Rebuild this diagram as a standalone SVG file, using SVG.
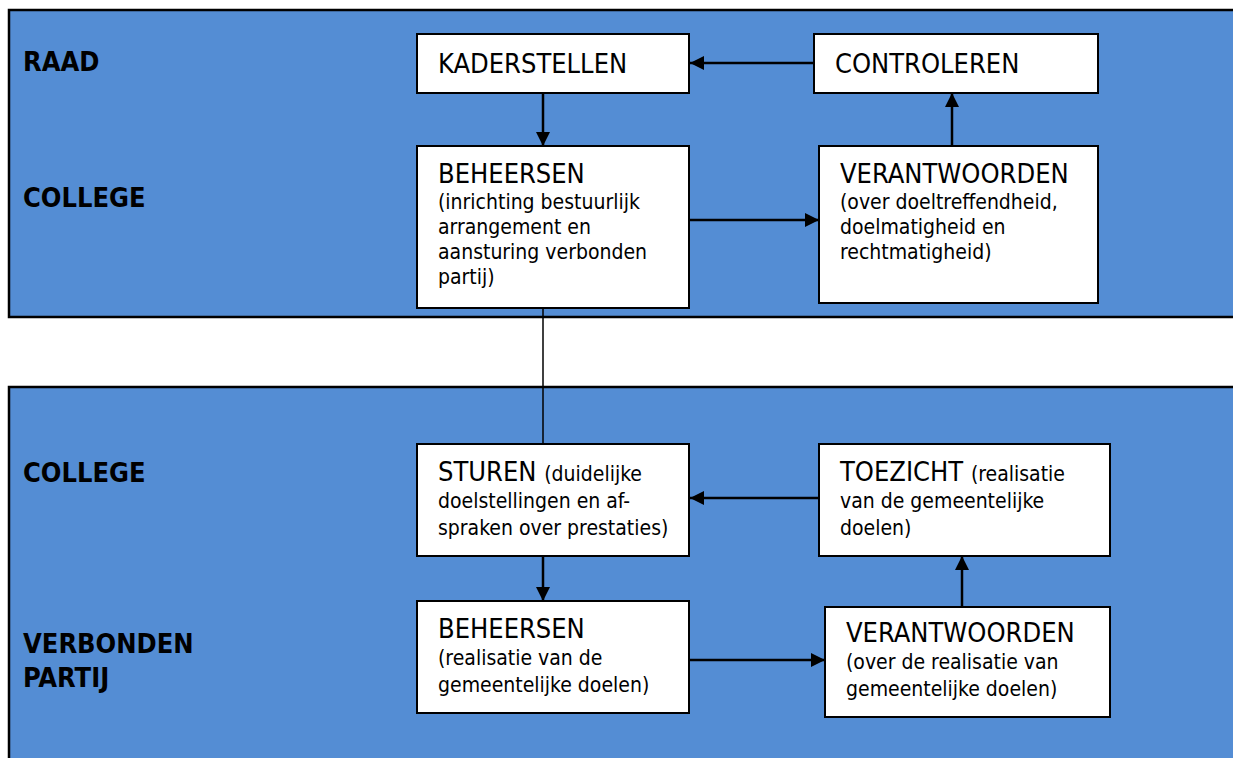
<svg xmlns="http://www.w3.org/2000/svg" width="1233" height="758" viewBox="0 0 1233 758">
<style>
.panel{fill:#548DD4;stroke:#000;stroke-width:2.5}
.box{fill:#fff;stroke:#000;stroke-width:2}
.lbl{font-family:"DejaVu Sans Condensed","DejaVu Sans",sans-serif;font-weight:bold;font-size:27px;fill:#000}
.t{font-family:"DejaVu Sans Condensed","DejaVu Sans",sans-serif;font-size:27px;fill:#000}
.s{font-family:"DejaVu Sans Condensed","DejaVu Sans",sans-serif;font-size:21px;fill:#000}
.c{stroke:#000;stroke-width:2.5;fill:none}
</style>
<defs>
<marker id="ah" markerWidth="14" markerHeight="14" refX="14" refY="7" orient="auto" markerUnits="userSpaceOnUse">
<path d="M0,0 L14,7 L0,14 Z" fill="#000"/>
</marker>
</defs>
<rect width="1233" height="758" fill="#fff"/>
<g id="panel-top">
<rect class="panel" x="9" y="10" width="1230" height="307"/>
<text class="lbl" x="23" y="71">RAAD</text>
<text class="lbl" x="23" y="207">COLLEGE</text>
</g>
<g id="panel-bottom">
<rect class="panel" x="9" y="387" width="1230" height="380"/>
<text class="lbl" x="23" y="482">COLLEGE</text>
<text class="lbl" x="23" y="653">VERBONDEN</text>
<text class="lbl" x="23" y="687">PARTIJ</text>
</g>
<g id="connectors">
<line class="c" x1="814" y1="63" x2="690" y2="63" marker-end="url(#ah)"/>
<line class="c" x1="543" y1="93" x2="543" y2="146" marker-end="url(#ah)"/>
<line class="c" x1="689" y1="220" x2="819" y2="220" marker-end="url(#ah)"/>
<line class="c" x1="952" y1="146" x2="952" y2="93" marker-end="url(#ah)"/>
<line class="c" x1="543" y1="308" x2="543" y2="444" style="stroke-width:1.5"/>
<line class="c" x1="819" y1="498" x2="690" y2="498" marker-end="url(#ah)"/>
<line class="c" x1="543" y1="556" x2="543" y2="601" marker-end="url(#ah)"/>
<line class="c" x1="689" y1="660" x2="825" y2="660" marker-end="url(#ah)"/>
<line class="c" x1="962" y1="607" x2="962" y2="556" marker-end="url(#ah)"/>
</g>
<g id="kaderstellen">
<rect class="box" x="417" y="34" width="272" height="59"/>
<text class="t" x="438" y="73">KADERSTELLEN</text>
</g>
<g id="controleren">
<rect class="box" x="814" y="34" width="284" height="59"/>
<text class="t" x="835" y="73">CONTROLEREN</text>
</g>
<g id="beheersen-top">
<rect class="box" x="417" y="146" width="272" height="162"/>
<text class="t" x="438" y="183">BEHEERSEN</text>
<text class="s" x="438" y="209">(inrichting bestuurlijk</text>
<text class="s" x="438" y="234">arrangement en</text>
<text class="s" x="438" y="259">aansturing verbonden</text>
<text class="s" x="438" y="284">partij)</text>
</g>
<g id="verantwoorden-top">
<rect class="box" x="819" y="146" width="279" height="157"/>
<text class="t" x="840" y="183">VERANTWOORDEN</text>
<text class="s" x="840" y="209">(over doeltreffendheid,</text>
<text class="s" x="840" y="234">doelmatigheid en</text>
<text class="s" x="840" y="259">rechtmatigheid)</text>
</g>
<g id="sturen">
<rect class="box" x="417" y="444" width="272" height="112"/>
<text class="t" x="438" y="481">STUREN <tspan class="s">(duidelijke</tspan></text>
<text class="s" x="438" y="508">doelstellingen en af-</text>
<text class="s" x="438" y="535">spraken over prestaties)</text>
</g>
<g id="toezicht">
<rect class="box" x="819" y="444" width="291" height="112"/>
<text class="t" x="840" y="481">TOEZICHT <tspan class="s">(realisatie</tspan></text>
<text class="s" x="840" y="508">van de gemeentelijke</text>
<text class="s" x="840" y="535">doelen)</text>
</g>
<g id="beheersen-bottom">
<rect class="box" x="417" y="601" width="272" height="112"/>
<text class="t" x="438" y="638">BEHEERSEN</text>
<text class="s" x="438" y="665">(realisatie van de</text>
<text class="s" x="438" y="692">gemeentelijke doelen)</text>
</g>
<g id="verantwoorden-bottom">
<rect class="box" x="825" y="607" width="285" height="110"/>
<text class="t" x="846" y="642">VERANTWOORDEN</text>
<text class="s" x="846" y="669">(over de realisatie van</text>
<text class="s" x="846" y="696">gemeentelijke doelen)</text>
</g>
</svg>
